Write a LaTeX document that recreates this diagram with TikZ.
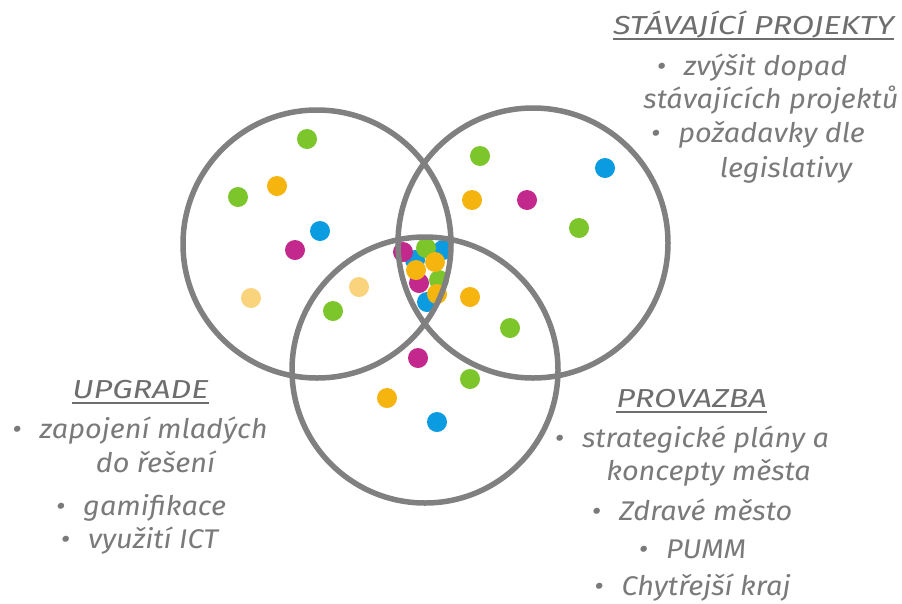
\documentclass[tikz,border=0pt]{standalone}
\usepackage{fontspec}
\setmainfont{Fira Sans}
\newfontfamily\bodyfont[FakeStretch=1.07]{Fira Sans}
\newfontfamily\headfont[FakeStretch=1.25]{Fira Sans}
\definecolor{cgreen}{HTML}{7CC62B}
\definecolor{corange}{HTML}{F6B40E}
\definecolor{cblue}{HTML}{0A9BE1}
\definecolor{cmag}{HTML}{C3288C}
\definecolor{clight}{HTML}{F9D47C}
\definecolor{cring}{HTML}{808080}
\definecolor{ctext}{HTML}{7A7A7A}
\definecolor{chead}{HTML}{6E6E6E}
\begin{document}
\begin{tikzpicture}[x=1pt,y=-1pt,
  dot/.style={circle,inner sep=0pt,minimum size=20pt,draw=none},
  ring/.style={circle,inner sep=0pt,draw=cring,line width=5.5pt},
  txt/.style={inner sep=0pt,anchor=base,text=ctext,font=\bodyfont\fontsize{27}{32}\selectfont\itshape},
  hdr/.style={inner sep=0pt,anchor=base,text=chead,font=\headfont\fontsize{26}{30}\selectfont\itshape},
  ul/.style={draw=chead,line width=2.5pt}]
\useasboundingbox[fill=white] (0,0) rectangle (902,603);
% left circle dots
\node[dot,fill=cgreen] (l1) at (307,139) {};
\node[dot,fill=cgreen] (l2) at (238,197) {};
\node[dot,fill=corange] (l3) at (277,186) {};
\node[dot,fill=cblue] (l4) at (320,231) {};
\node[dot,fill=cmag] (l5) at (295,250) {};
\node[dot,fill=clight] (l6) at (251,298) {};
\node[dot,fill=clight] (l7) at (359,287) {};
\node[dot,fill=cgreen] (l8) at (333,311) {};
% right circle dots
\node[dot,fill=cgreen] (r1) at (480,156) {};
\node[dot,fill=cblue] (r2) at (605,168) {};
\node[dot,fill=corange] (r3) at (472,200) {};
\node[dot,fill=cmag] (r4) at (527,200) {};
\node[dot,fill=cgreen] (r5) at (579,228) {};
\node[dot,fill=corange] (r6) at (470,297) {};
\node[dot,fill=cgreen] (r7) at (510,328) {};
% bottom circle dots
\node[dot,fill=cmag] (b1) at (418,358) {};
\node[dot,fill=cgreen] (b2) at (470,379) {};
\node[dot,fill=corange] (b3) at (387,398) {};
\node[dot,fill=cblue] (b4) at (437,422) {};
% centre cluster
\node[dot,fill=cblue] (c1) at (415,260) {};
\node[dot,fill=cblue] (c2) at (443,250) {};
\node[dot,fill=cblue] (c3) at (427,302) {};
\node[dot,fill=cmag] (c4) at (403,252) {};
\node[dot,fill=cmag] (c5) at (419,283) {};
\node[dot,fill=cgreen] (c6) at (426,248) {};
\node[dot,fill=cgreen] (c7) at (439,280) {};
\node[dot,fill=corange] (c8) at (435,262) {};
\node[dot,fill=corange] (c9) at (416,270) {};
\node[dot,fill=corange] (c10) at (437,294) {};
% rings
\node[ring,minimum size=268pt] (L) at (317,244) {};
\node[ring,minimum size=270pt] (R) at (533,243) {};
\node[ring,minimum size=266pt] (B) at (425,370) {};
% STAVAJICI PROJEKTY
\node[hdr] (h1) at (753.5,34) {STÁVAJÍCÍ PROJEKTY};
\draw[ul] ([yshift=-5pt]h1.base west) -- ([yshift=-5pt]h1.base east);
\node[txt] (t11) at (752,75) {•\hspace{18pt}zvýšit dopad};
\node[txt] (t12) at (771,108) {stávajících projektů};
\node[txt] (t13) at (758,142) {•\hspace{18pt}požadavky dle};
\node[txt] (t14) at (786,177) {legislativy};
% UPGRADE
\node[hdr] (h2) at (140.5,398) {UPGRADE};
\draw[ul] ([yshift=-5pt]h2.base west) -- ([yshift=-5pt]h2.base east);
\node[txt] (t21) at (140,438) {•\hspace{18pt}zapojení mladých};
\node[txt] (t22) at (155.5,472) {do řešení};
\node[txt] (t23) at (141,515) {•\hspace{18pt}gamifikace};
\node[txt] (t24) at (139.5,548) {•\hspace{18pt}využití ICT};
% PROVAZBA
\node[hdr] (h3) at (691.5,407) {PROVAZBA};
\draw[ul] ([yshift=-5pt]h3.base west) -- ([yshift=-5pt]h3.base east);
\node[txt] (t31) at (692,447) {•\hspace{18pt}strategické plány a};
\node[txt] (t32) at (708.5,480) {koncepty města};
\node[txt] (t33) at (692,520) {•\hspace{18pt}Zdravé město};
\node[txt] (t34) at (692.5,558) {•\hspace{18pt}PUMM};
\node[txt] (t35) at (692.5,595) {•\hspace{18pt}Chytřejší kraj};
\end{tikzpicture}
\end{document}
